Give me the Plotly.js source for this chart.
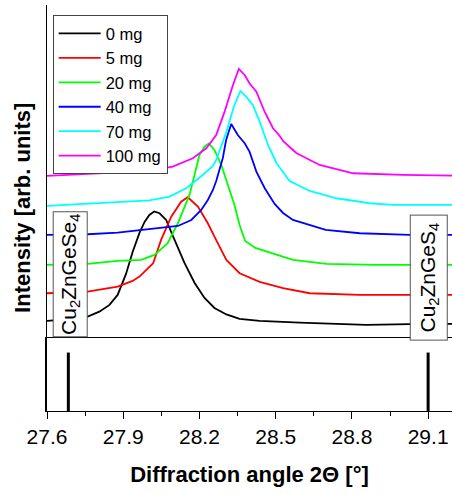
<!DOCTYPE html>
<html>
<head>
<meta charset="utf-8">
<script src="https://cdn.plot.ly/plotly-3.0.1.min.js"></script>
<style>html,body{margin:0;padding:0;background:#fff;}#chart{width:452px;height:494px;}</style>
</head>
<body>
<div id="chart"></div>
<script>
// Diffraction angle 2Θ (°) and intensity (arb. units, offset stacked)
const seriesNames = ['0 mg', '5 mg', '20 mg', '40 mg', '70 mg', '100 mg'];
const seriesColors = ['#000000', '#ff0000', '#00ff00', '#0000ff', '#00ffff', '#ff00ff'];

const x0mg = [27.600, 27.700, 27.760, 27.806, 27.846, 27.878, 27.911, 27.937, 27.964, 27.984, 28.003, 28.022, 28.043, 28.069, 28.102, 28.141, 28.181, 28.220, 28.259, 28.306, 28.358, 28.437, 28.594, 28.726, 28.857, 29.028, 29.194];
const y0mg = [17, 19, 21.3, 26.3, 33, 43, 64, 86, 105, 116, 123, 126.5, 124.7, 118, 98, 75, 55, 40, 30, 23.5, 19, 17, 15.3, 14, 13, 13.7, 14];

const x5mg = [27.600, 27.760, 27.878, 27.937, 27.964, 28.018, 28.049, 28.089, 28.128, 28.154, 28.194, 28.233, 28.259, 28.306, 28.358, 28.437, 28.529, 28.634, 28.831, 29.028, 29.194];
const y5mg = [44.7, 46.3, 51.3, 57, 61.3, 74.7, 98, 121.3, 136.3, 140.7, 131.3, 114.7, 101.3, 78, 64.7, 56, 49.7, 44.7, 43, 43, 43];

const x20mg = [27.600, 27.760, 27.878, 27.970, 28.023, 28.075, 28.115, 28.141, 28.161, 28.200, 28.220, 28.237, 28.259, 28.286, 28.312, 28.338, 28.358, 28.380, 28.420, 28.476, 28.568, 28.700, 28.897, 29.194];
const y20mg = [73, 74, 77, 78, 83, 94.7, 114.7, 131.3, 143, 183, 191.3, 194.5, 188, 173, 153, 133, 113, 97, 90, 85.5, 78, 74, 73, 73];

const x40mg = [27.600, 27.760, 27.878, 28.010, 28.115, 28.168, 28.207, 28.233, 28.253, 28.266, 28.292, 28.305, 28.325, 28.351, 28.378, 28.397, 28.424, 28.457, 28.496, 28.529, 28.568, 28.697, 28.831, 29.028, 29.194];
const y40mg = [103, 103.7, 105.3, 108.7, 112, 118, 128, 138, 148, 157, 180, 198, 214, 203, 194.7, 186.3, 166.3, 149.7, 134, 125, 118, 108, 104.7, 103, 103];

const x70mg = [27.600, 27.806, 27.937, 28.003, 28.082, 28.148, 28.213, 28.253, 28.266, 28.292, 28.306, 28.335, 28.361, 28.384, 28.410, 28.437, 28.470, 28.503, 28.530, 28.555, 28.634, 28.739, 28.870, 28.962, 29.194];
const y70mg = [132, 134.7, 137, 137.5, 141.3, 149.7, 163, 172, 178, 195, 206, 231, 247, 241.3, 233, 216.3, 193, 175, 165, 157, 147, 139.7, 134.7, 133, 133];

const x100mg = [27.600, 27.806, 28.003, 28.095, 28.174, 28.227, 28.266, 28.299, 28.332, 28.355, 28.378, 28.397, 28.424, 28.457, 28.477, 28.489, 28.516, 28.529, 28.555, 28.581, 28.673, 28.805, 29.002, 29.194];
const y100mg = [162, 164.7, 167, 171.3, 179.7, 189.7, 203, 226.3, 253, 269, 263, 254.7, 246.3, 226, 215, 210, 202, 197, 191, 185, 173, 164.7, 163, 162.3];

// Reference reflections (lower panel)
const refNames = ['Cu<sub>2</sub>ZnGeSe<sub>4</sub>', 'Cu<sub>2</sub>ZnGeS<sub>4</sub>'];
const refPositions = [27.684, 29.100];
const refHeights = [0.8, 0.8];

const tickVals = [27.6, 27.9, 28.2, 28.5, 28.8, 29.1];
const tickText = ['27.6', '27.9', '28.2', '28.5', '28.8', '29.1'];

const xs = [x0mg, x5mg, x20mg, x40mg, x70mg, x100mg];
const ys = [y0mg, y5mg, y20mg, y40mg, y70mg, y100mg];

const traces = seriesNames.map((name, i) => ({
  type: 'scatter', mode: 'lines', name: name,
  x: xs[i], y: ys[i], xaxis: 'x', yaxis: 'y',
  line: {color: seriesColors[i], width: 1.8, shape: 'linear'}
}));

const refX = [], refY = [];
refPositions.forEach((p, i) => { refX.push(p, p, null); refY.push(0, refHeights[i], null); });
traces.push({
  type: 'scatter', mode: 'lines', x: refX, y: refY, xaxis: 'x', yaxis: 'y2',
  line: {color: '#000', width: 3}, showlegend: false, hoverinfo: 'skip'
});

const font = 'Liberation Sans, Arial, sans-serif';
const layout = {
  width: 452, height: 494,
  margin: {l: 47, r: 0, t: 5, b: 83},
  paper_bgcolor: '#fff', plot_bgcolor: '#fff',
  font: {family: font, color: '#000'},
  showlegend: true,
  legend: {
    x: 0.014, y: 0.975, xanchor: 'left', yanchor: 'top',
    bgcolor: '#fff', bordercolor: '#444', borderwidth: 1,
    font: {family: font, size: 16.5, color: '#000'},
    itemwidth: 42, tracegroupgap: 0
  },
  xaxis: {
    anchor: 'y2', range: [27.6, 29.194], tickvals: tickVals, ticktext: tickText,
    ticks: 'outside', ticklen: 7, tickwidth: 1, tickcolor: '#000',
    minor: {dtick: 0.15, tick0: 27.6, ticks: 'outside', ticklen: 4, tickcolor: '#000'},
    showline: true, linecolor: '#000', linewidth: 1, mirror: true,
    showgrid: false, zeroline: false,
    tickfont: {family: font, size: 21, color: '#000'},
    title: {text: '<b>Diffraction angle 2Θ [°]</b>', font: {family: font, size: 22, color: '#000'}, standoff: 19}
  },
  xaxis2: {
    anchor: 'y', side: 'top', matches: 'x', range: [27.6, 29.194],
    dtick: 0.15, tick0: 27.6, ticks: 'inside', ticklen: 4, tickcolor: '#000',
    showticklabels: false, showline: true, linecolor: '#000', linewidth: 1,
    showgrid: false, zeroline: false
  },
  yaxis: {
    domain: [0.18, 1], range: [0, 333], showticklabels: false, ticks: '',
    showline: true, linecolor: '#000', linewidth: 1, showgrid: false, zeroline: false
  },
  yaxis2: {
    domain: [0, 0.18], range: [0, 1], showticklabels: false, ticks: '',
    showline: true, linecolor: '#000', linewidth: 2, showgrid: false, zeroline: false
  },
  annotations: [
    {text: '<b>Intensity [arb. units]</b>', xref: 'paper', yref: 'paper', x: -0.062, y: 0.5,
     xanchor: 'center', yanchor: 'middle', textangle: -90, showarrow: false,
     font: {family: font, size: 22, color: '#000'}},
    {text: refNames[0], xref: 'paper', yref: 'paper', x: 0.058, y: 0.338,
     xanchor: 'center', yanchor: 'middle', textangle: -90, showarrow: false,
     width: 124, height: 33, borderpad: 0, bgcolor: '#fff', bordercolor: '#555', borderwidth: 1,
     font: {family: font, size: 21, color: '#000'}},
    {text: refNames[1], xref: 'paper', yref: 'paper', x: 0.9437, y: 0.329,
     xanchor: 'center', yanchor: 'middle', textangle: -90, showarrow: false,
     width: 124, height: 36, borderpad: 0, bgcolor: '#fff', bordercolor: '#555', borderwidth: 1,
     font: {family: font, size: 21, color: '#000'}}
  ]
};

Plotly.newPlot('chart', traces, layout, {displayModeBar: false, staticPlot: true});
</script>
</body>
</html>
